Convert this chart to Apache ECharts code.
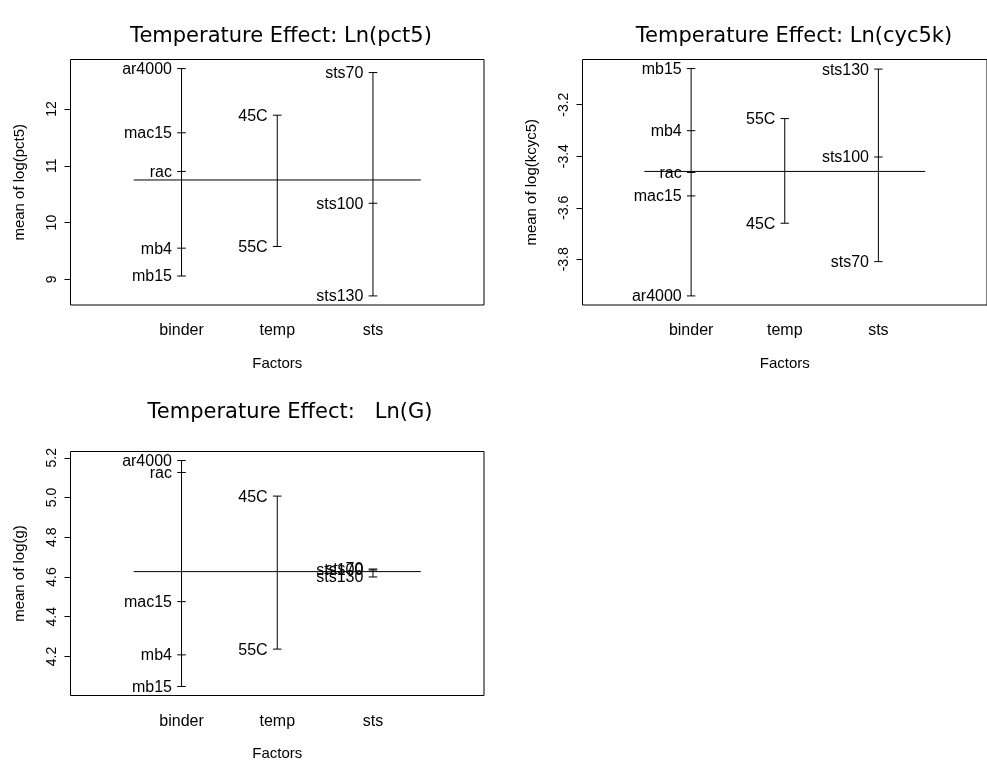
<!DOCTYPE html>
<html>
<head>
<meta charset="utf-8">
<script src="https://cdn.jsdelivr.net/npm/echarts@6/dist/echarts.min.js"></script>
<style>
html,body{margin:0;padding:0;background:#fff;}
#chart{width:987px;height:765px;}
</style>
</head>
<body>
<div id="chart"></div>
<script>
// ---- data ----
const factors = ['binder', 'temp', 'sts'];
const binderLevels = ['ar4000', 'mac15', 'mb15', 'mb4', 'rac'];
const tempLevels = ['45C', '55C'];
const stsLevels = ['sts100', 'sts130', 'sts70'];

// Panel 1: mean of log(pct5)
const pct5Binder = [12.71, 11.58, 9.06, 9.55, 10.90];
const pct5Temp = [11.89, 9.58];
const pct5Sts = [10.34, 8.71, 12.64];
const pct5Mean = 10.75;
const pct5Ticks = [9, 10, 11, 12];

// Panel 2: mean of log(kcyc5)
const kcycBinder = [-3.942, -3.554, -3.060, -3.301, -3.463];
const kcycTemp = [-3.660, -3.254];
const kcycSts = [-3.403, -3.062, -3.809];
const kcycMean = -3.459;
const kcycTicks = [-3.8, -3.6, -3.4, -3.2];

// Panel 3: mean of log(g)
const gBinder = [5.186, 4.476, 4.049, 4.208, 5.126];
const gTemp = [5.007, 4.237];
const gSts = [4.635, 4.600, 4.640];
const gMean = 4.627;
const gTicks = [4.2, 4.4, 4.6, 4.8, 5.0, 5.2];

const titles = ['Temperature Effect: Ln(pct5)', 'Temperature Effect: Ln(cyc5k)', 'Temperature Effect:   Ln(G)'];
const yNames = ['mean of log(pct5)', 'mean of log(kcyc5)', 'mean of log(g)'];

// ---- build ----
const FONT = '"Liberation Sans", Arial, Helvetica, sans-serif';
const panels = [
  { vals: [pct5Binder, pct5Temp, pct5Sts], mean: pct5Mean, ticks: pct5Ticks, dec: 0,
    grid: { left: 70.5, top: 59.5, width: 413.5, height: 245.5 }, title: { x: 281, y: 37 } },
  { vals: [kcycBinder, kcycTemp, kcycSts], mean: kcycMean, ticks: kcycTicks, dec: 1,
    grid: { left: 582.5, top: 59.5, width: 413.5, height: 245.5 }, title: { x: 794, y: 37 } },
  { vals: [gBinder, gTemp, gSts], mean: gMean, ticks: gTicks, dec: 1,
    grid: { left: 70.5, top: 451.5, width: 413.5, height: 244 }, title: { x: 290, y: 413 } }
];
const levelSets = [binderLevels, tempLevels, stsLevels];

const grids = [], xAxes = [], yAxes = [], series = [], graphics = [];

panels.forEach((p, k) => {
  grids.push(Object.assign({ show: true, borderColor: '#000', borderWidth: 1, backgroundColor: 'transparent' }, p.grid));
  xAxes.push({
    type: 'value', gridIndex: k, min: -0.16, max: 4.16,
    axisLine: { show: false, onZero: false }, axisTick: { show: false }, splitLine: { show: false },
    axisLabel: { customValues: [1, 2, 3], formatter: v => factors[Math.round(v) - 1] || '',
      color: '#000', fontFamily: FONT, fontSize: 16, margin: 18 },
    name: 'Factors', nameLocation: 'middle', nameGap: 51,
    nameTextStyle: { color: '#000', fontFamily: FONT, fontSize: 15 }
  });
  const all = [].concat(...p.vals);
  const lo = Math.min(...all), hi = Math.max(...all), r = hi - lo;
  yAxes.push({
    type: 'value', gridIndex: k, min: lo - 0.04 * r, max: hi + 0.04 * r,
    axisLine: { show: false, onZero: false }, splitLine: { show: false },
    axisTick: { show: true, customValues: p.ticks, length: 6, lineStyle: { color: '#000' } },
    axisLabel: { customValues: p.ticks, rotate: 90, margin: 11, color: '#000', fontFamily: FONT, fontSize: 14,
      formatter: v => v.toFixed(p.dec) },
    name: yNames[k], nameLocation: 'middle', nameGap: 43, nameRotate: 90,
    nameTextStyle: { color: '#000', fontFamily: FONT, fontSize: 15 }
  });
  // vertical ranges
  p.vals.forEach((arr, i) => {
    series.push({
      type: 'line', xAxisIndex: k, yAxisIndex: k, symbol: 'none', silent: true, animation: false,
      lineStyle: { color: '#000', width: 1 },
      data: [[i + 1, Math.min(...arr)], [i + 1, Math.max(...arr)]]
    });
  });
  // grand mean
  series.push({
    type: 'line', xAxisIndex: k, yAxisIndex: k, symbol: 'none', silent: true, animation: false,
    lineStyle: { color: '#000', width: 1 },
    data: [[0.5, p.mean], [3.5, p.mean]]
  });
  // level ticks + labels
  const pts = [];
  p.vals.forEach((arr, i) => arr.forEach((v, j) => pts.push([i + 1, v, levelSets[i][j]])));
  series.push({
    type: 'custom', xAxisIndex: k, yAxisIndex: k, silent: true, animation: false,
    data: pts,
    renderItem: (params, api) => {
      const x = api.value(0), y = api.value(1);
      const lbl = pts[params.dataIndex][2];
      const a = api.coord([x - 0.045, y]);
      const b = api.coord([x + 0.045, y]);
      const c = api.coord([x - 0.1, y]);
      return {
        type: 'group', children: [
          { type: 'line', shape: { x1: a[0], y1: a[1], x2: b[0], y2: b[1] }, style: { stroke: '#000', lineWidth: 1 } },
          { type: 'text', x: c[0], y: c[1] + 1, style: { text: lbl, fill: '#000', font: '16px ' + FONT, align: 'right', verticalAlign: 'middle' } }
        ]
      };
    }
  });
  graphics.push({
    type: 'text', x: p.title.x, y: p.title.y,
    style: { text: titles[k], fill: '#000', font: '21px "DejaVu Sans", sans-serif', align: 'center', verticalAlign: 'middle' }
  });
});

const chart = echarts.init(document.getElementById('chart'), null, { renderer: 'canvas' });
chart.setOption({
  animation: false,
  backgroundColor: '#fff',
  grid: grids, xAxis: xAxes, yAxis: yAxes, series: series, graphic: graphics
});
</script>
</body>
</html>
